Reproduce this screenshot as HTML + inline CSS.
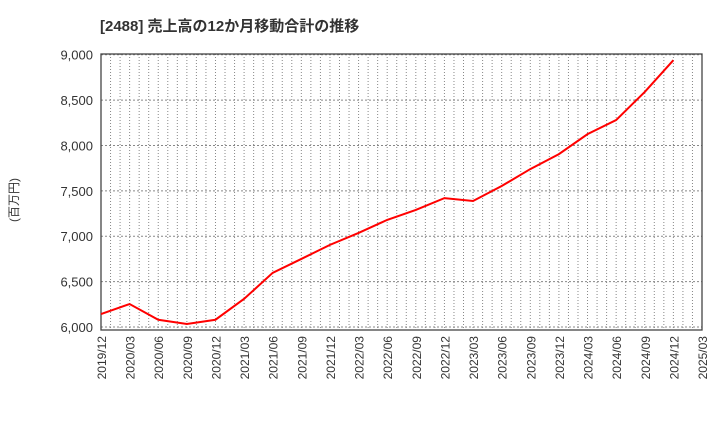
<!DOCTYPE html>
<html><head><meta charset="utf-8"><style>
body{margin:0;background:#fff;}
svg text{font-family:"Liberation Sans","Noto Sans CJK JP",sans-serif;}
</style></head><body>
<svg id="chart" width="720" height="440">
<text x="100" y="31" font-size="15" font-weight="bold" fill="#333">[2488]  売上高の12か月移動合計の推移</text>
<text transform="translate(18,200) rotate(-90)" font-size="12" fill="#333" text-anchor="middle">(百万円)</text>
<g id="grid"></g><g id="axes"></g><g id="series"></g>
</svg>
<script>
const categories=["2019/12","2020/03","2020/06","2020/09","2020/12","2021/03","2021/06","2021/09","2021/12","2022/03","2022/06","2022/09","2022/12","2023/03","2023/06","2023/09","2023/12","2024/03","2024/06","2024/09","2024/12"];
const xTickLabels=["2019/12","2020/03","2020/06","2020/09","2020/12","2021/03","2021/06","2021/09","2021/12","2022/03","2022/06","2022/09","2022/12","2023/03","2023/06","2023/09","2023/12","2024/03","2024/06","2024/09","2024/12","2025/03"];
const salesValues=[6143,6253,6080,6033,6080,6310,6597,6750,6905,7036,7180,7290,7420,7388,7553,7740,7905,8125,8280,8590,8940];
const yTicks=[6000,6500,7000,7500,8000,8500,9000];
const L=101,R=702,T=54,B=330;
const y=v=>54.7+(9000-v)*272.3/3000;
const x=i=>L+i*(R-L)/21;
const NS="http://www.w3.org/2000/svg";
function mk(tag,attrs,parent){const e=document.createElementNS(NS,tag);for(const k in attrs)e.setAttribute(k,attrs[k]);parent.appendChild(e);return e;}
const grid=document.getElementById('grid'),axes=document.getElementById('axes'),series=document.getElementById('series');
for(let m=1;m<63;m++){const xx=L+m*(R-L)/63;const l=mk('line',{x1:xx,x2:xx,y1:T,y2:B,stroke:'#888','stroke-dasharray':'1,2','stroke-width':1},grid);

}
yTicks.forEach(v=>{const l=mk('line',{x1:L,x2:R,y1:y(v),y2:y(v),stroke:'#888','stroke-dasharray':'2,2','stroke-width':1},grid);


const t=mk('text',{x:93,y:y(v)+5,'font-size':13,fill:'#333','text-anchor':'end'},axes);t.textContent=v.toLocaleString('en-US');

});
xTickLabels.forEach((s,i)=>{const t=mk('text',{transform:`translate(${x(i)+5},${B+6}) rotate(-90)`,'font-size':12,fill:'#333','text-anchor':'end'},axes);t.textContent=s;

});
const frame=mk('rect',{x:L,y:T,width:R-L,height:B-T,fill:'none',stroke:'#444','stroke-width':1.3},axes);


const pl=mk('polyline',{points:salesValues.map((v,i)=>x(i)+','+y(v)).join(' '),fill:'none',stroke:'#ff0000','stroke-width':2},series);


</script>
</body></html>
